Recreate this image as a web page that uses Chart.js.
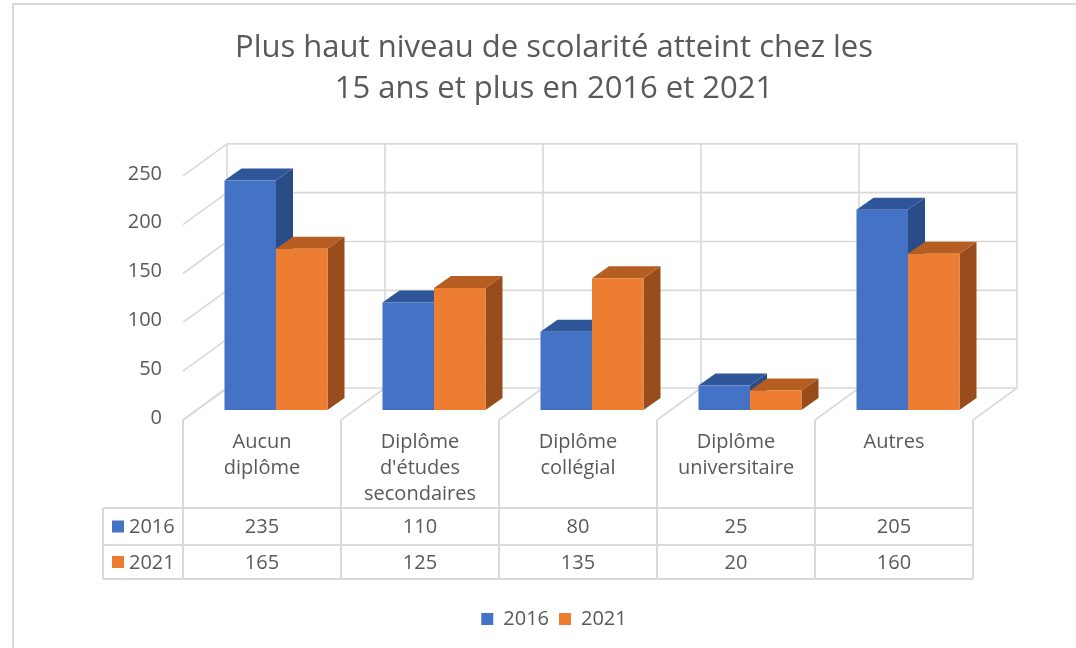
<!DOCTYPE html>
<html><head><meta charset="utf-8">
<script src="https://cdn.jsdelivr.net/npm/chart.js@4.4.1/dist/chart.umd.min.js"></script>
<style>html,body{margin:0;padding:0;background:#fff;overflow:hidden}canvas{display:block}</style>
</head><body>
<canvas id="c" width="1076" height="648"></canvas>
<script>
// ---- data ----
const categories = [['Aucun','diplôme'],['Diplôme',"d'études",'secondaires'],['Diplôme','collégial'],['Diplôme','universitaire'],['Autres']];
const seriesNames = ['2016','2021'];
const values2016 = [235,110,80,25,205];
const values2021 = [165,125,135,20,160];
const yTickStep = 50;
const yMax = 250;
const titleLines = ['Plus haut niveau de scolarité atteint chez les','15 ans et plus en 2016 et 2021'];

// ---- styles ----
const FRONT_COLORS = ['#4472C4','#ED7D31'];
const TOP_COLORS = ['#30569A','#B65D21'];
const SIDE_COLORS = ['#294B87','#984C1B'];
const GRID = '#D9D9D9';
const TEXT = '#595959';
const FONT = '"Open Sans", Lato, sans-serif';
const BAR_DEPTH = {dx:17, dy:-12};
const BACK = {dx:30, dy:-22};
const FRONT = {dx:-14, dy:10};
const PAD_BOTTOM = 9;

function line(ctx,x1,y1,x2,y2){ctx.beginPath();ctx.moveTo(x1,y1);ctx.lineTo(x2,y2);ctx.stroke();}
function poly(ctx,pts,color){ctx.beginPath();ctx.moveTo(pts[0][0],pts[0][1]);for(let i=1;i<pts.length;i++)ctx.lineTo(pts[i][0],pts[i][1]);ctx.closePath();ctx.fillStyle=color;ctx.fill();}

const scene3d = {
  id:'scene3d',
  beforeDraw(chart){
    const ctx=chart.ctx;
    ctx.save();
    ctx.fillStyle='#fff';ctx.fillRect(0,0,chart.width,chart.height);
    ctx.strokeStyle=GRID;ctx.lineWidth=2;
    ctx.strokeRect(13,4,chart.width+20,chart.height+20);
    ctx.restore();
  },
  beforeDatasetsDraw(chart){
    const ctx=chart.ctx, xs=chart.scales.x, ys=chart.scales.y;
    const band = xs.getPixelForValue(1)-xs.getPixelForValue(0);
    const y0 = ys.getPixelForValue(0), yTop = ys.getPixelForValue(yMax);
    ctx.save();
    ctx.strokeStyle=GRID; ctx.lineWidth=1.6;
    ys.ticks.forEach(t=>{
      const y=ys.getPixelForValue(t.value);
      line(ctx, xs.left+BACK.dx, y+BACK.dy, xs.right+BACK.dx, y+BACK.dy);
      line(ctx, xs.left+FRONT.dx, y+FRONT.dy, xs.left+BACK.dx, y+BACK.dy);
    });
    for(let i=0;i<=categories.length;i++){
      const bx = xs.getPixelForValue(0)-band/2+i*band;
      line(ctx, bx+BACK.dx, yTop+BACK.dy, bx+BACK.dx, y0+BACK.dy);
      line(ctx, bx+FRONT.dx, y0+FRONT.dy, bx+BACK.dx, y0+BACK.dy);
    }
    chart.data.datasets.forEach((ds,di)=>{
      const meta=chart.getDatasetMeta(di);
      meta.data.forEach(el=>{
        const p=el.getProps(['x','y','width','base'],true);
        const l=p.x-p.width/2, r=p.x+p.width/2, dx=BAR_DEPTH.dx, dy=BAR_DEPTH.dy;
        poly(ctx,[[r,p.y],[r+dx,p.y+dy],[r+dx,p.base+dy],[r,p.base]],SIDE_COLORS[di]);
        poly(ctx,[[l,p.y],[r,p.y],[r+dx,p.y+dy],[l+dx,p.y+dy]],TOP_COLORS[di]);
      });
    });
    ctx.restore();
  },
  afterDraw(chart){
    const ctx=chart.ctx, xs=chart.scales.x, ys=chart.scales.y;
    const band = xs.getPixelForValue(1)-xs.getPixelForValue(0);
    const y0 = ys.getPixelForValue(0);
    const firstB = xs.getPixelForValue(0)-band/2+FRONT.dx;
    const lastB = firstB+band*categories.length;
    const tableLeft = firstB-80;
    const rows=[y0+98,y0+135,y0+169];
    ctx.save();
    ctx.strokeStyle=GRID; ctx.lineWidth=2;
    for(let i=0;i<=categories.length;i++){
      const bx=firstB+i*band;
      line(ctx,bx,y0+FRONT.dy,bx,rows[2]);
    }
    line(ctx,tableLeft,rows[0],tableLeft,rows[2]);
    rows.forEach(y=>line(ctx,tableLeft,y,lastB,y));
    ctx.font='20px '+FONT; ctx.textBaseline='middle';
    const seriesVals=[values2016,values2021];
    for(let s=0;s<2;s++){
      const cy=(rows[s]+rows[s+1])/2;
      ctx.fillStyle=FRONT_COLORS[s];
      ctx.fillRect(tableLeft+9,cy-6,12,12);
      ctx.fillStyle=TEXT; ctx.textAlign='left';
      ctx.fillText(seriesNames[s],tableLeft+26,cy+1);
      ctx.textAlign='center';
      seriesVals[s].forEach((v,i)=>{
        ctx.fillText(String(v), xs.getPixelForValue(i)+FRONT.dx, cy+1);
      });
    }
    ctx.restore();
  }
};

new Chart(document.getElementById('c'),{
  type:'bar',
  data:{
    labels:categories,
    datasets:[
      {label:seriesNames[0],data:values2016,backgroundColor:FRONT_COLORS[0],borderWidth:0,barPercentage:1,categoryPercentage:0.652},
      {label:seriesNames[1],data:values2021,backgroundColor:FRONT_COLORS[1],borderWidth:0,barPercentage:1,categoryPercentage:0.652}
    ]
  },
  options:{
    responsive:false,
    animation:false,
    layout:{padding:{left:121,right:89,top:0,bottom:PAD_BOTTOM}},
    plugins:{
      title:{display:true,text:titleLines,color:TEXT,font:{family:FONT,size:31,weight:'normal',lineHeight:1.32},padding:{top:28,bottom:56}},
      legend:{position:'bottom',labels:{color:TEXT,font:{family:FONT,size:20},boxWidth:12,boxHeight:12,padding:10}},
      tooltip:{enabled:false}
    },
    scales:{
      x:{
        grid:{display:false,drawTicks:false},border:{display:false},
        ticks:{color:TEXT,font:{family:FONT,size:20,lineHeight:1.3},padding:19,labelOffset:FRONT.dx,maxRotation:0,minRotation:0,autoSkip:false},
        afterFit(scale){const ch=scale.chart;scale.height=ch.height-PAD_BOTTOM-(ch.legend?ch.legend.height:0)-410;}
      },
      y:{
        min:0,max:yMax,
        grid:{display:false,drawTicks:false},border:{display:false},
        ticks:{stepSize:yTickStep,color:TEXT,font:{family:FONT,size:20},padding:35,labelOffset:8},
        afterFit(scale){scale.width=76;}
      }
    }
  },
  plugins:[scene3d]
});
</script>
</body></html>
